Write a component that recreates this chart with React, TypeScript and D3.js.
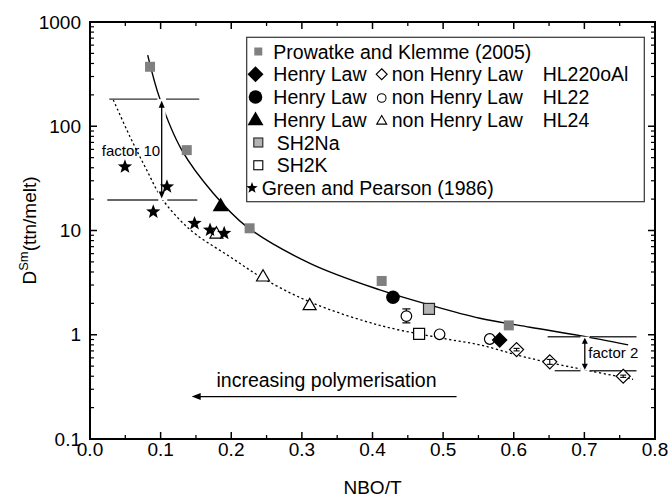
import React from "react";
import * as d3 from "d3";

// ---------- data ----------
const prowatkeX = [0.085, 0.137, 0.226, 0.413, 0.593];
const prowatkeY = [372, 59, 10.5, 3.28, 1.23];

const sh2NaX = [0.48];
const sh2NaY = [1.77];
const sh2KX = [0.466];
const sh2KY = [1.02];

const hl220HenryX = [0.58];
const hl220HenryY = [0.89];
const hl220NonX = [0.604, 0.651, 0.755];
const hl220NonY = [0.72, 0.55, 0.4];
const hl220NonErrLo = [0.7, 0.52, 0.39];
const hl220NonErrHi = [0.74, 0.58, 0.41];

const hl22HenryX = [0.429];
const hl22HenryY = [2.29];
const hl22NonX = [0.448, 0.495, 0.566];
const hl22NonY = [1.51, 1.01, 0.91];
const hl22NonErrLo = [1.3, 1.01, 0.91];
const hl22NonErrHi = [1.77, 1.01, 0.91];

const hl24HenryX = [0.185];
const hl24HenryY = [16.9];
const hl24NonX = [0.179, 0.245, 0.311];
const hl24NonY = [9.2, 3.56, 1.89];

const greenX = [0.0495, 0.109, 0.0896, 0.148, 0.17, 0.19];
const greenY = [40.9, 26.3, 15.1, 11.7, 10.1, 9.4];

// fitted curves
const solidX = [0.0817, 0.0991, 0.13, 0.1745, 0.2218, 0.3114, 0.4105, 0.481, 0.552, 0.623, 0.694, 0.762];
const solidY = [482, 182, 59, 22.8, 10.9, 4.84, 2.69, 1.93, 1.44, 1.18, 0.98, 0.8];
const dottedX = [0.033, 0.0566, 0.0803, 0.1015, 0.1274, 0.151, 0.198, 0.245, 0.311, 0.4105, 0.505, 0.552, 0.616, 0.694, 0.769];
const dottedY = [179, 79.4, 38, 20.4, 12.6, 9.06, 5.61, 3.48, 2.07, 1.23, 0.91, 0.8, 0.61, 0.47, 0.374];

// annotations
const f10Hi = 182;
const f10Lo = 19.6;
const f10HiSegs = [[0.0273, 0.0953], [0.1076, 0.1547]];
const f10LoSegs = [[0.0245, 0.0967], [0.1094, 0.1519]];
const f10ArrowX = 0.1015;
const f2Hi = 0.957;
const f2Lo = 0.452;
const f2HiSegs = [[0.648, 0.6945], [0.7077, 0.7738]];
const f2LoSegs = [[0.658, 0.6945], [0.7077, 0.7738]];
const f2ArrowX = 0.7006;
const polyArrowX = [0.519, 0.144];
const polyArrowY = 0.255;

const xTicks = [0, 0.1, 0.2, 0.3, 0.4, 0.5, 0.6, 0.7, 0.8];
const yTicks = [0.1, 1, 10, 100, 1000];
const yTickLabels = ["0.1", "1", "10", "100", "1000"];

const legendRows = [
  "Prowatke and Klemme (2005)",
  "Henry Law",
  "Henry Law",
  "Henry Law",
  "SH2Na",
  "SH2K",
  "Green and Pearson (1986)",
];
const nonHenryLabel = "non Henry Law";
const seriesNames = ["HL220oAl", "HL22", "HL24"];

// ---------- layout ----------
const W = 672;
const H = 498;
const L = 90, R = 655, T = 22, B = 439;
const FONT = "Liberation Sans, Arial, Helvetica, sans-serif";

const x = d3.scaleLinear().domain([0, 0.8]).range([L, R]);
const y = d3.scaleLog().domain([0.1, 1000]).range([B, T]);

function starPath(cx: number, cy: number, Ro: number) {
  const ri = Ro * 0.42;
  const pts: string[] = [];
  for (let i = 0; i < 10; i++) {
    const a = -Math.PI / 2 + (i * Math.PI) / 5;
    const r = i % 2 === 0 ? Ro : ri;
    pts.push(`${(cx + r * Math.cos(a)).toFixed(2)},${(cy + r * Math.sin(a)).toFixed(2)}`);
  }
  return "M" + pts.join("L") + "Z";
}
function diamondPath(cx: number, cy: number, h: number) {
  return `M${cx},${cy - h}L${cx + h},${cy}L${cx},${cy + h}L${cx - h},${cy}Z`;
}
function triPath(cx: number, cy: number, s: number) {
  const hgt = (s * Math.sqrt(3)) / 2;
  return `M${cx},${cy - (2 * hgt) / 3}L${cx + s / 2},${cy + hgt / 3}L${cx - s / 2},${cy + hgt / 3}Z`;
}

function arrowHead(px: number, py: number, dir: "up" | "down" | "left", len = 7, wid = 3) {
  if (dir === "up") return `M${px},${py}L${px - wid},${py + len}L${px + wid},${py + len}Z`;
  if (dir === "down") return `M${px},${py}L${px - wid},${py - len}L${px + wid},${py - len}Z`;
  return `M${px},${py}L${px + len},${py - wid}L${px + len},${py + wid}Z`;
}

export default function App() {
  const lineGen = d3
    .line<[number, number]>()
    .x((d) => x(d[0]))
    .y((d) => y(d[1]))
    .curve(d3.curveCatmullRom.alpha(0.5));
  const solidPts = solidX.map((v, i) => [v, solidY[i]] as [number, number]);
  const dottedPts = dottedX.map((v, i) => [v, dottedY[i]] as [number, number]);

  const xMinor: number[] = [];
  for (let i = 0; i < 8; i++) xMinor.push(i * 0.1 + 0.05);
  const yMinor: number[] = [];
  for (let d = 0.1; d < 999; d *= 10) for (let k = 2; k <= 9; k++) yMinor.push(d * k);

  const tickMaj = 7, tickMin = 4;

  const legY = (i: number) => 51.5 + i * 22.75;
  const legBase = (i: number) => legY(i) + 7;

  return (
    <svg width={W} height={H} style={{ position: "absolute", left: 0, top: 0, background: "#fff" }} fontFamily={FONT}>
      <rect x={0} y={0} width={W} height={H} fill="#fff" />

      {/* curves */}
      <path d={lineGen(solidPts) || ""} fill="none" stroke="#000" strokeWidth={1.4} />
      <path d={lineGen(dottedPts) || ""} fill="none" stroke="#000" strokeWidth={1.3} strokeDasharray="2.2,2.6" />

      {/* knockouts around arrows */}
      <rect x={x(f10ArrowX) - 4} y={y(f10Hi)} width={8} height={y(f10Lo) - y(f10Hi)} fill="#fff" />
      <rect x={x(f2ArrowX) - 4.5} y={y(f2Hi)} width={9} height={y(f2Lo) - y(f2Hi)} fill="#fff" />

      {/* factor lines */}
      {f10HiSegs.map((s, i) => (
        <line key={"f10h" + i} x1={x(s[0])} x2={x(s[1])} y1={y(f10Hi)} y2={y(f10Hi)} stroke="#333" strokeWidth={1.4} />
      ))}
      {f10LoSegs.map((s, i) => (
        <line key={"f10l" + i} x1={x(s[0])} x2={x(s[1])} y1={y(f10Lo)} y2={y(f10Lo)} stroke="#333" strokeWidth={1.4} />
      ))}
      <line x1={x(f10ArrowX)} x2={x(f10ArrowX)} y1={y(f10Hi) + 4} y2={y(f10Lo) - 4} stroke="#000" strokeWidth={1.3} />
      <path d={arrowHead(x(f10ArrowX), y(f10Hi) + 1.5, "up")} fill="#000" />
      <path d={arrowHead(x(f10ArrowX), y(f10Lo) - 1.5, "down")} fill="#000" />
      <text x={x(f10ArrowX) - 1.5} y={156} fontSize={15} textAnchor="end" fill="#000">
        factor 10
      </text>

      {f2HiSegs.map((s, i) => (
        <line key={"f2h" + i} x1={x(s[0])} x2={x(s[1])} y1={y(f2Hi)} y2={y(f2Hi)} stroke="#333" strokeWidth={1.4} />
      ))}
      {f2LoSegs.map((s, i) => (
        <line key={"f2l" + i} x1={x(s[0])} x2={x(s[1])} y1={y(f2Lo)} y2={y(f2Lo)} stroke="#333" strokeWidth={1.4} />
      ))}
      <line x1={x(f2ArrowX)} x2={x(f2ArrowX)} y1={y(f2Hi) + 3} y2={y(f2Lo) - 3} stroke="#000" strokeWidth={1.3} />
      <path d={arrowHead(x(f2ArrowX), y(f2Hi) + 1, "up", 6, 3)} fill="#000" />
      <path d={arrowHead(x(f2ArrowX), y(f2Lo) - 1, "down", 6, 3)} fill="#000" />
      <text x={x(f2ArrowX) + 3.5} y={358} fontSize={15} fill="#000">
        factor 2
      </text>

      {/* polymerisation arrow */}
      <line x1={x(polyArrowX[0])} x2={x(polyArrowX[1]) + 6} y1={y(polyArrowY)} y2={y(polyArrowY)} stroke="#000" strokeWidth={1.4} />
      <path d={arrowHead(x(polyArrowX[1]), y(polyArrowY), "left", 9, 3.5)} fill="#000" />
      <text x={326.5} y={386.5} fontSize={19.5} textAnchor="middle" fill="#000">
        increasing polymerisation
      </text>

      {/* error bars */}
      {hl22NonX.map((v, i) =>
        hl22NonErrHi[i] > hl22NonErrLo[i] ? (
          <g key={"e22" + i} stroke="#000" strokeWidth={1.2}>
            <line x1={x(v)} x2={x(v)} y1={y(hl22NonErrHi[i])} y2={y(hl22NonErrLo[i])} />
            <line x1={x(v) - 4} x2={x(v) + 4} y1={y(hl22NonErrHi[i])} y2={y(hl22NonErrHi[i])} />
            <line x1={x(v) - 4} x2={x(v) + 4} y1={y(hl22NonErrLo[i])} y2={y(hl22NonErrLo[i])} />
          </g>
        ) : null
      )}

      {/* markers */}
      {prowatkeX.map((v, i) => (
        <rect key={"pk" + i} x={x(v) - 5} y={y(prowatkeY[i]) - 5} width={10} height={10} fill="#808080" />
      ))}
      {hl24NonX.map((v, i) => (
        <path key={"t24" + i} d={triPath(x(v), y(hl24NonY[i]), 13)} fill="#fff" stroke="#000" strokeWidth={1.2} />
      ))}
      {greenX.map((v, i) => (
        <path key={"gp" + i} d={starPath(x(v), y(greenY[i]), 7.5)} fill="#000" />
      ))}
      {hl24HenryX.map((v, i) => (
        <path key={"T24" + i} d={triPath(x(v), y(hl24HenryY[i]), 16)} fill="#000" />
      ))}
      {hl22NonX.map((v, i) => (
        <circle key={"c22" + i} cx={x(v)} cy={y(hl22NonY[i])} r={5.3} fill="#fff" stroke="#000" strokeWidth={1.2} />
      ))}
      {hl22HenryX.map((v, i) => (
        <circle key={"C22" + i} cx={x(v)} cy={y(hl22HenryY[i])} r={6.8} fill="#000" />
      ))}
      {sh2NaX.map((v, i) => (
        <rect key={"na" + i} x={x(v) - 5.5} y={y(sh2NaY[i]) - 5.5} width={11} height={11} fill="#b3b3b3" stroke="#222" strokeWidth={1.2} />
      ))}
      {sh2KX.map((v, i) => (
        <rect key={"k" + i} x={x(v) - 5.5} y={y(sh2KY[i]) - 5.5} width={11} height={11} fill="#fff" stroke="#000" strokeWidth={1.2} />
      ))}
      {hl220NonX.map((v, i) => (
        <g key={"d220" + i}>
          <path d={diamondPath(x(v), y(hl220NonY[i]), 7)} fill="#fff" stroke="#000" strokeWidth={1.2} />
          <line x1={x(v)} x2={x(v)} y1={y(hl220NonErrHi[i])} y2={y(hl220NonErrLo[i])} stroke="#000" strokeWidth={1.1} />
          <line x1={x(v) - 3} x2={x(v) + 3} y1={y(hl220NonErrHi[i])} y2={y(hl220NonErrHi[i])} stroke="#000" strokeWidth={1.1} />
          <line x1={x(v) - 3} x2={x(v) + 3} y1={y(hl220NonErrLo[i])} y2={y(hl220NonErrLo[i])} stroke="#000" strokeWidth={1.1} />
        </g>
      ))}
      {hl220HenryX.map((v, i) => (
        <path key={"D220" + i} d={diamondPath(x(v), y(hl220HenryY[i]), 8)} fill="#000" />
      ))}

      {/* axes frame */}
      <rect x={L} y={T} width={R - L} height={B - T} fill="none" stroke="#000" strokeWidth={2} />
      {xTicks.map((t) => (
        <g key={"xt" + t} stroke="#000" strokeWidth={1.5}>
          <line x1={x(t)} x2={x(t)} y1={B} y2={B - tickMaj} />
          <line x1={x(t)} x2={x(t)} y1={T} y2={T + tickMaj} />
        </g>
      ))}
      {xMinor.map((t) => (
        <g key={"xm" + t} stroke="#000" strokeWidth={1.3}>
          <line x1={x(t)} x2={x(t)} y1={B} y2={B - tickMin} />
          <line x1={x(t)} x2={x(t)} y1={T} y2={T + tickMin} />
        </g>
      ))}
      {yTicks.map((t) => (
        <g key={"yt" + t} stroke="#000" strokeWidth={1.5}>
          <line x1={L} x2={L + tickMaj} y1={y(t)} y2={y(t)} />
          <line x1={R} x2={R - tickMaj} y1={y(t)} y2={y(t)} />
        </g>
      ))}
      {yMinor.map((t, i) => (
        <g key={"ym" + i} stroke="#000" strokeWidth={1.2}>
          <line x1={L} x2={L + tickMin} y1={y(t)} y2={y(t)} />
          <line x1={R} x2={R - tickMin} y1={y(t)} y2={y(t)} />
        </g>
      ))}
      {xTicks.map((t) => (
        <text key={"xl" + t} x={x(t)} y={456} fontSize={19} textAnchor="middle" fill="#000">
          {d3.format(".1f")(t)}
        </text>
      ))}
      {yTicks.map((t, i) => (
        <text key={"yl" + t} x={81} y={y(t) + 6.5} fontSize={19} textAnchor="end" fill="#000">
          {yTickLabels[i]}
        </text>
      ))}
      <text x={(L + R) / 2} y={494} fontSize={19} textAnchor="middle" fill="#000">
        NBO/T
      </text>
      <text transform={`translate(36,${(T + B) / 2}) rotate(-90)`} fontSize={19} textAnchor="middle" fill="#000">
        D<tspan dy={-8} fontSize={13}>Sm</tspan>
        <tspan dy={8}>(ttn/melt)</tspan>
      </text>

      {/* legend */}
      <rect x={246.7} y={37.3} width={397.6} height={164.4} fill="#fff" stroke="#333" strokeWidth={1.2} />
      <rect x={254.3} y={legY(0) - 4} width={8} height={8} fill="#808080" />
      <text x={273.3} y={legBase(0)} fontSize={19.5}>{legendRows[0]}</text>
      {[1, 2, 3].map((r) => (
        <g key={"lr" + r}>
          {r === 1 && <path d={diamondPath(255.5, legY(r), 8)} fill="#000" />}
          {r === 2 && <circle cx={255.5} cy={legY(r)} r={6.8} fill="#000" />}
          {r === 3 && <path d={triPath(255.5, legY(r) + 1, 16)} fill="#000" />}
          <text x={273.3} y={legBase(r)} fontSize={19.5}>{legendRows[r]}</text>
          {r === 1 && <path d={diamondPath(381.7, legY(r), 5.5)} fill="#fff" stroke="#000" strokeWidth={1.1} />}
          {r === 2 && <circle cx={381.7} cy={legY(r) + 1} r={4.3} fill="#fff" stroke="#000" strokeWidth={1.1} />}
          {r === 3 && <path d={triPath(381.7, legY(r) + 1.5, 10)} fill="#fff" stroke="#000" strokeWidth={1.1} />}
          <text x={391.7} y={legBase(r)} fontSize={19.5}>{nonHenryLabel}</text>
          <text x={542.7} y={legBase(r)} fontSize={19.5}>{seriesNames[r - 1]}</text>
        </g>
      ))}
      <rect x={253.8} y={legY(4) - 4.5} width={9} height={9} fill="#b3b3b3" stroke="#222" strokeWidth={1.1} />
      <text x={276.7} y={legBase(4)} fontSize={19.5}>{legendRows[4]}</text>
      <rect x={253.8} y={legY(5) - 4.5} width={9} height={9} fill="#fff" stroke="#000" strokeWidth={1.1} />
      <text x={276.7} y={legBase(5)} fontSize={19.5}>{legendRows[5]}</text>
      <path d={starPath(252, legY(6), 6)} fill="#000" />
      <text x={261.7} y={legBase(6)} fontSize={19.5}>{legendRows[6]}</text>
    </svg>
  );
}
